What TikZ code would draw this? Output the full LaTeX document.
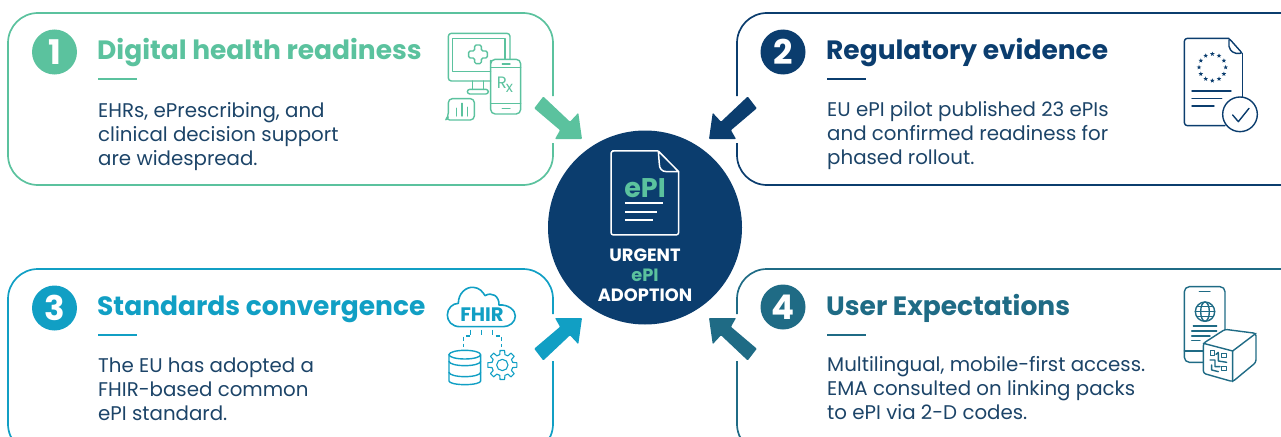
\documentclass[tikz,border=0pt]{standalone}
\usepackage{fontspec}
\setmainfont{Poppins}
\usetikzlibrary{shapes.geometric}
\definecolor{cgreen}{HTML}{5BC29E}
\definecolor{cnavy}{HTML}{0B3D6E}
\definecolor{cblue}{HTML}{119FC4}
\definecolor{cteal}{HTML}{1F6B85}
\definecolor{cbody}{HTML}{1C4468}
\tikzset{
  card/.style={line width=1.7pt,rounded corners=30pt},
  badge/.style={circle,fill=#1,inner sep=0pt,minimum size=45pt,text=white,font=\fontsize{34}{34}\selectfont\bfseries},
  cardtitle/.style={anchor=base west,inner sep=0pt,text=#1,font=\fontsize{26.5}{30}\selectfont\bfseries},
  rulebar/.style={line width=1.8pt},
  bodytext/.style={anchor=north west,inner sep=0pt,align=left,text=cbody,font=\fontsize{19.8}{24}\selectfont},
  ic/.style={line width=1.4pt,line join=round,line cap=round,draw=#1},
  ict/.style={x=0.3333pt,y=-0.3333pt},
  centertext/.style={inner sep=0pt,anchor=base,font=\fontsize{17.8}{20}\selectfont\bfseries},
}
\newcommand{\epiarrow}[1]{\fill[#1,rounded corners=0.8pt] (582,139)--(578.3,112.8)--(570,121.7)--(543.3,96.5)--(534.2,108.3)--(560,130.2)--(555,139)--cycle;}
\begin{document}
\begin{tikzpicture}[x=1pt,y=-1pt]
\useasboundingbox (0,0) rectangle (1281,436);
\clip (0,0) rectangle (1281,436);
% cards
\draw[card,cgreen] (553,96) |- (8,13) |- (553,185) -- (553,143);
\draw[card,cnavy] (737,96) |- (1320,13);
\draw[card,cnavy] (737,143) |- (1320,185);
\draw[card,cblue] (553,314) |- (8,269) |- (553,454) -- (553,361);
\draw[card,cteal] (737,314) |- (1320,269);
\draw[card,cteal] (737,361) |- (1320,454);
% badges
\node[badge=cgreen] (b1) at (54.5,52) {1};
\node[badge=cnavy] (b2) at (783,52) {2};
\node[badge=cblue] (b3) at (54.5,308) {3};
\node[badge=cteal] (b4) at (783,307) {4};
% titles
\node[cardtitle=cgreen] (t1) at (97,59.5) {Digital health readiness};
\node[cardtitle=cnavy] (t2) at (826,59.5) {Regulatory evidence};
\node[cardtitle=cblue] (t3) at (97,315) {Standards convergence};
\node[cardtitle=cteal] (t4) at (826,315) {User Expectations};
% rules
\draw[rulebar,cgreen] (98,79)--(137,79);
\draw[rulebar,cnavy] (827,79)--(866,79);
\draw[rulebar,cblue] (98,335)--(137,335);
\draw[rulebar,cteal] (827,335)--(866,335);
% body
\node[bodytext] (d1) at (98,102) {EHRs, ePrescribing, and\\clinical decision support\\are widespread.};
\node[bodytext] (d2) at (827,101) {EU ePI pilot published 23 ePIs\\and confirmed readiness for\\phased rollout.};
\node[bodytext] (d3) at (98,358) {The EU has adopted a\\FHIR-based common\\ePI standard.};
\node[bodytext] (d4) at (827,356) {Multilingual, mobile-first access.\\EMA consulted on linking packs\\to ePI via 2-D codes.};
% centre
\node[circle,fill=cnavy,minimum size=194pt,inner sep=0pt] (hub) at (645,227.5) {};
\begin{scope}[shift={(520,90)},ict]
\draw[white,line width=1.5pt,line join=round,rounded corners=2.5pt] (415,183)--(285,183)--(273,183)--(273,435)--(476,435)--(476,245);
\draw[white,line width=1.5pt,line join=round] (415,183)--(476,245)--(440,245) .. controls (425,245) and (418,235) .. (418,222)--(415,183);
\draw[white,line width=1.8pt] (315,340)--(428,340) (315,365)--(410,365) (315,390)--(398,390);
\end{scope}
\node[inner sep=0pt,anchor=base,text=cgreen,font=\fontsize{27}{29}\selectfont\bfseries] (hubdoc) at (645,197) {ePI};
\node[centertext,text=white] (hub1) at (645,261) {URGENT};
\node[centertext,text=cgreen] (hub2) at (645,281.5) {ePI};
\node[centertext,text=white] (hub3) at (645,301) {ADOPTION};
% arrows
\epiarrow{cgreen}
\begin{scope}[shift={(1291,0)},xscale=-1]\epiarrow{cnavy}\end{scope}
\begin{scope}[shift={(0,457)},yscale=-1]\epiarrow{cblue}\end{scope}
\begin{scope}[shift={(1291,457)},xscale=-1,yscale=-1]\epiarrow{cteal}\end{scope}
% icon 1
\begin{scope}[shift={(430,20)},ict]
\draw[ic=cgreen,rounded corners=3pt] (182,183)--(55,183)--(55,40)--(240,40)--(240,118);
\draw[ic=cgreen,line width=1.2pt] (182,155)--(68,155)--(68,55)--(225,55)--(225,118);
\draw[ic=cgreen,rounded corners=1.5pt] (134,75)--(154,75)--(154,93)--(172,93)--(172,114)--(154,114)--(154,131)--(134,131)--(134,114)--(116,114)--(116,93)--(134,93)--cycle;
\draw[ic=cgreen] (128,183)--(128,208) (160,183)--(160,208);
\draw[ic=cgreen,rounded corners=2.5pt] (112,208)--(175,208)--(175,222)--(112,222)--cycle;
\draw[ic=cgreen,rounded corners=4.5pt] (182,135)--(182,118)--(272,118)--(272,282)--(182,282)--cycle;
\draw[ic=cgreen] (182,142)--(272,142) (182,250)--(272,250) (217,132)--(240,132) (217,266)--(240,266);
\draw[ic=cgreen,rounded corners=4pt] (47,300)--(55,290)--(55,236)--(133,236)--(133,300)--cycle;
\draw[ic=cgreen] (80,265)--(80,288) (96,250)--(96,288) (112,262)--(112,288);
\end{scope}
\node[inner sep=0pt,text=cgreen,font=\fontsize{16.5}{17}\selectfont] (rx1) at (502,82.5) {R};
\node[inner sep=0pt,text=cgreen,font=\fontsize{15}{15}\selectfont] (rx2) at (509.5,88.5) {x};
% icon 2
\begin{scope}[shift={(1170,25)},ict]
\draw[ic=cnavy,rounded corners=3pt] (177,40)--(43,40)--(43,302)--(165,302);
\draw[ic=cnavy] (217,85)--(217,218);
\draw[ic=cnavy,rounded corners=2pt] (177,40)--(217,85)--(192,85)--(177,70)--cycle;
\draw[ic=cnavy] (66,198)--(183,198) (66,221)--(155,221) (66,243)--(132,243);
\draw[ic=cnavy,fill=white] (210,268) circle[radius=52];
\draw[ic=cnavy] (188,270)--(205,290)--(237,250);
\foreach \i in {1,...,12}{\node[star,star points=5,star point ratio=2.4,fill=cnavy,inner sep=0pt,minimum size=4.8pt] (s\i) at ({127+40*cos(30*\i)},{127-40*sin(30*\i)}) {};}
\end{scope}
% icon 3
\begin{scope}[shift={(430,275)},ict]
\draw[ic=cblue,line width=1.6pt] (90,155) .. controls (65,155) and (52,138) .. (52,120) .. controls (52,100) and (68,85) .. (85,85) .. controls (85,55) and (108,35) .. (130,37) .. controls (148,38) and (158,50) .. (165,62) .. controls (185,50) and (208,62) .. (207,90) .. controls (235,88) and (256,105) .. (256,123) .. controls (256,142) and (238,155) .. (220,155) -- cycle;
\draw[ic=cblue,line width=1.6pt,line cap=butt] (122,165)--(122,180) (155,165)--(155,180) (188,165)--(188,180);
\draw[ic=cblue,line width=1.6pt,line cap=butt,dash pattern=on 4.5pt off 2.5pt] (120,183)--(101,183)--(101,215) (197,183)--(215,183)--(215,215);
\draw[ic=cblue] (57,239) -- (57,318) arc[start angle=180,end angle=0,x radius=47.5,y radius=11] -- (152,239);
\draw[ic=cblue] (104.5,239) ellipse[x radius=47.5,y radius=13];
\draw[ic=cblue] (57,259) arc[start angle=180,end angle=0,x radius=47.5,y radius=13];
\draw[ic=cblue] (57,292) arc[start angle=180,end angle=0,x radius=47.5,y radius=13];
\draw[ic=cblue,line width=1.1pt,shift={(217,270)}] (-14:32) \foreach \a in {0,45,...,315}{ -- (\a-14:32) -- (\a-9:44) -- (\a+9:44) -- (\a+14:32) -- (\a+31:32)} -- cycle;
\draw[ic=cblue,line width=1.1pt] (217,270) circle[radius=17];
\end{scope}
\node[inner sep=0pt,text=cblue,font=\fontsize{19.5}{20}\selectfont\bfseries] (fhir) at (482,315) {FHIR};
% icon 4
\begin{scope}[shift={(1170,275)},ict]
\draw[ic=cteal,rounded corners=5pt] (100,262)--(43,262)--(43,35)--(165,35)--(165,175);
\draw[ic=cteal] (43,228)--(100,228) (88,50)--(120,50);
\draw[ic=cteal] (105,110) circle[radius=29];
\draw[ic=cteal] (105,110) ellipse[x radius=13,y radius=29];
\draw[ic=cteal] (76,110)--(134,110) (81,95)--(129,95) (81,125)--(129,125);
\draw[ic=cteal] (70,153)--(140,153) (65,168)--(140,168) (65,183)--(120,183) (65,197)--(90,197);
\draw[ic=cteal,fill=white,rounded corners=2.5pt] (100,205)--(165,163)--(258,175)--(258,262)--(188,320)--(100,295)--cycle;
\draw[ic=cteal] (100,205)--(188,228)--(258,175) (188,228)--(188,320);
\draw[ic=cteal,line width=1pt] (120,228) rectangle (133,241) (155,235) rectangle (168,248) (155,275) rectangle (168,288);
\draw[ic=cteal,line width=1.4pt] (120,255)--(135,255)--(135,275)--(150,275) (125,270)--(125,285)--(145,290) (145,235)--(145,258)--(170,262) (138,238)--(145,232);
\end{scope}
\end{tikzpicture}
\end{document}
